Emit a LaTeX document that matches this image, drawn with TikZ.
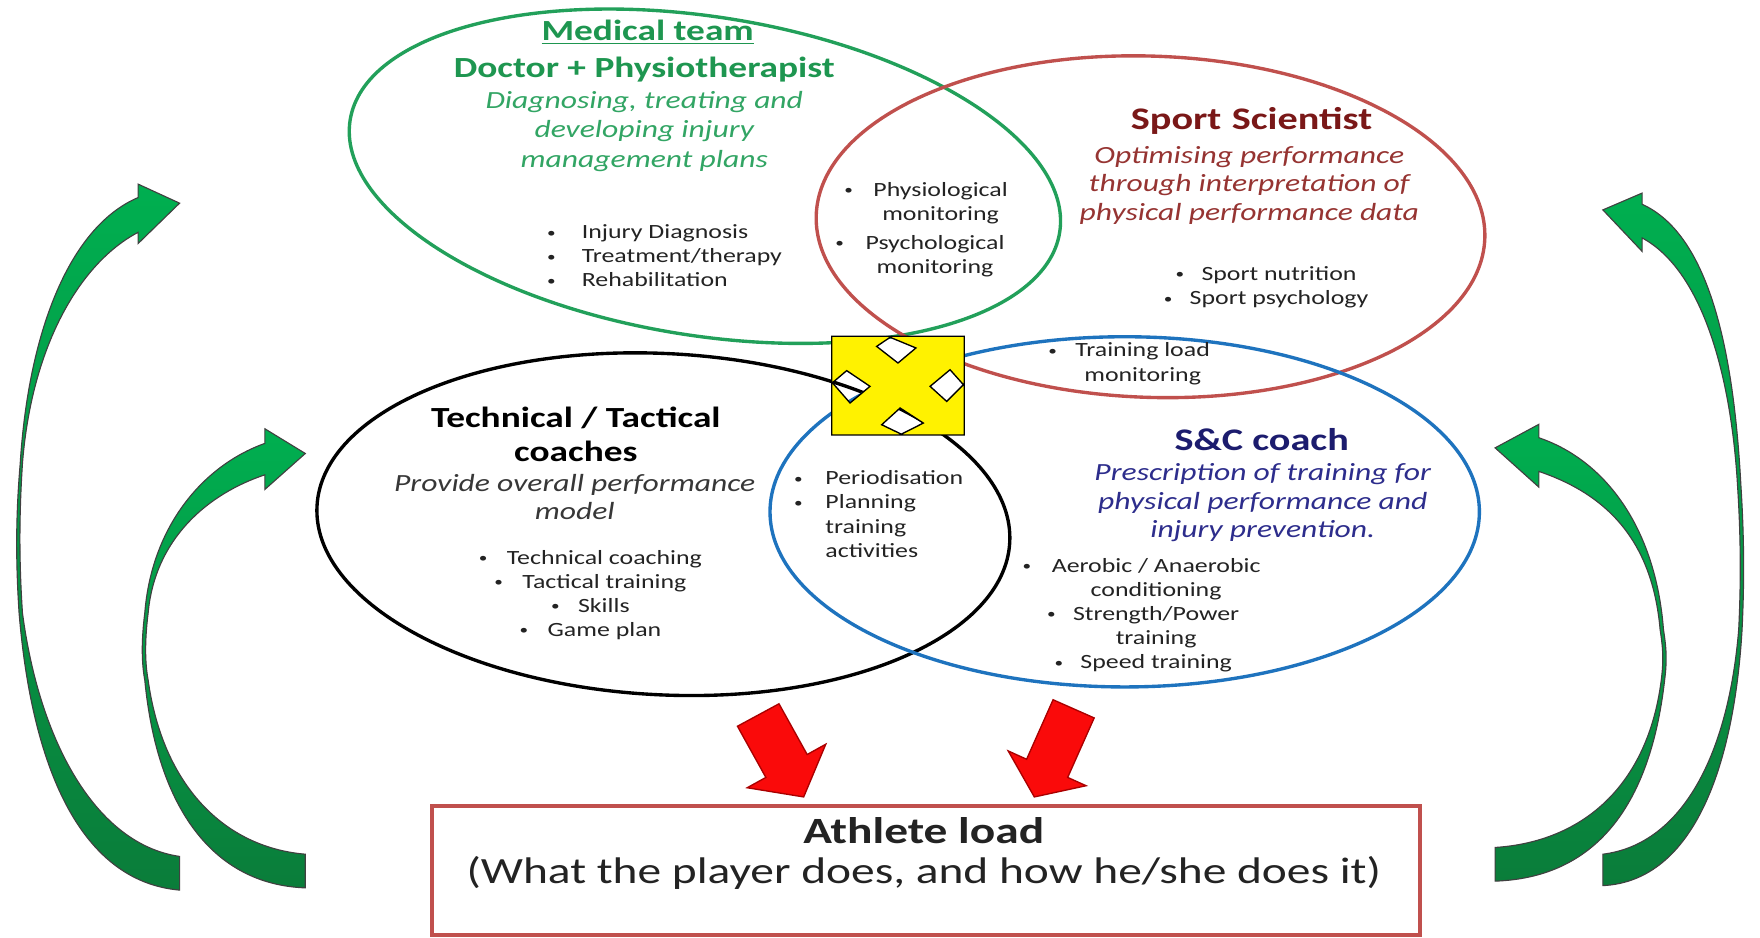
\documentclass[tikz,border=0pt]{standalone}
\usepackage{fontspec}
\setmainfont{Carlito}[FakeStretch=1.28]
\usetikzlibrary{shapes.geometric}
\definecolor{gline}{RGB}{34,160,90}
\definecolor{gtext}{RGB}{30,150,80}
\definecolor{gital}{RGB}{50,165,100}
\definecolor{rline}{RGB}{192,80,77}
\definecolor{rtext}{RGB}{122,24,24}
\definecolor{rital}{RGB}{150,52,50}
\definecolor{bline}{RGB}{30,115,190}
\definecolor{ctext}{RGB}{28,28,110}
\definecolor{cital}{RGB}{45,45,140}
\definecolor{body}{RGB}{35,35,35}
\definecolor{dital}{RGB}{55,55,55}
\definecolor{arrg}{RGB}{0,175,80}
\definecolor{arrgd}{RGB}{10,125,58}
\definecolor{arrr}{RGB}{250,10,10}
\definecolor{arrrd}{RGB}{170,0,0}
\definecolor{boxline}{RGB}{192,80,77}
\newcommand\smbul{{\fontsize{6}{6}\selectfont\raisebox{0.7pt}{•}}}
\newcommand\bu[1]{\makebox[#1][l]{\hspace{1pt}\smbul}}
\newcommand\hb[1]{\llap{\makebox[#1][l]{\hspace{1pt}\smbul}}}
\begin{document}
\begin{tikzpicture}[x=0.5pt,y=-0.5pt,
 ell/.style={ellipse, draw, line width=1.5pt, inner sep=0pt},
 ttl/.style={font=\fontsize{13}{15}\selectfont\bfseries, align=center, inner sep=0pt},
 itl/.style={font=\fontsize{11}{12.75}\selectfont\itshape, align=center, inner sep=0pt},
 bdy/.style={font=\fontsize{9}{10.75}\selectfont, text=body, inner sep=0pt},
 garrow/.style={draw=black!75, line width=0.5pt, top color=arrg, bottom color=arrgd},
 rarrow/.style={draw=arrrd, line width=0.6pt, fill=arrr}]
\fill[white] (0,0) rectangle (1568,835);
\useasboundingbox (0,0) rectangle (1568,835);

% ellipses
\node[ell, draw=gline, minimum width=320pt, minimum height=142pt, rotate=-9] (gE) at (628,157) {};
\node[ell, draw=rline, minimum width=298pt, minimum height=152pt, rotate=-2] (rE) at (1025,202) {};
\node[ell, draw=black, minimum width=309pt, minimum height=152pt, rotate=-3] (kE) at (591,467) {};
\node[ell, draw=bline, minimum width=316pt, minimum height=156pt] (cE) at (1002,456) {};

% yellow quad arrow (notched box)
\path[fill=yellow, draw=black, line width=0.6pt, even odd rule]
 (741,299.6) -- (859,299.6) -- (859,387.5) -- (741,387.5) -- cycle
 (781,308.6) -- (793,300.5) -- (816,310) -- (800,323.4) -- cycle
 (828.6,344.2) -- (846.4,329.4) -- (858.3,342.7) -- (843.4,357.6) -- cycle
 (785.5,378.4) -- (801.9,363.5) -- (822.6,376.9) -- (803,386.8) -- cycle
 (741.6,341) -- (754.3,330.2) -- (775.1,344.2) -- (757.3,359) -- cycle;

% green team
\node[ttl, text=gtext] (gT) at (577,29) {\underline{Medical team}};
\node[ttl, text=gtext] (gS) at (574,62) {Doctor + Physiotherapist};
\node[itl, text=gital, font=\fontsize{11}{13.25}\selectfont\itshape] (gD) at (574,117) {Diagnosing, treating and\\developing injury\\management plans};
\node[bdy, align=left, anchor=west] (gL) at (485,228) {\bu{16.5pt}Injury Diagnosis\\\bu{16.5pt}Treatment/therapy\\\bu{16.5pt}Rehabilitation};

% green/red overlap
\node[bdy, align=center] (grA) at (838,181) {\hb{14pt}Physiological\\monitoring};
\node[bdy, align=center] (grB) at (833,228) {\hb{14.5pt}Psychological\\monitoring};

% red team
\node[ttl, text=rtext, font=\fontsize{14}{16}\selectfont\bfseries] (rT) at (1115,108) {Sport\,\,Scientist};
\node[itl, text=rital] (rD) at (1113,165) {Optimising performance\\through interpretation of\\physical performance data};
\node[bdy, align=center] (rL) at (1127,256) {\bu{12.5pt}Sport nutrition\\\bu{12.5pt}Sport psychology};

% red/blue overlap
\node[bdy, align=center] (rbA) at (1018,324) {\hb{13pt}Training load\\monitoring};

% black team
\node[ttl, text=black] (kT) at (513,387) {Technical / Tactical\\coaches};
\node[itl, text=dital, font=\fontsize{11}{12.5}\selectfont\itshape] (kD) at (512,443) {Provide overall performance\\model};
\node[bdy, align=center] (kL) at (525,530) {\bu{13.5pt}Technical coaching\\\bu{13.5pt}Tactical training\\\bu{13pt}Skills\\\bu{13.5pt}Game plan};

% black/blue overlap
\node[bdy, align=left, anchor=west] (kcL) at (705,458) {\bu{15pt}Periodisation\\\bu{15pt}Planning\\\hspace*{15pt}training\\\hspace*{15pt}activities};

% blue team
\node[ttl, text=ctext, font=\fontsize{14}{16}\selectfont\bfseries] (cT) at (1124,392) {S\&C coach};
\node[itl, text=cital] (cD) at (1125,448) {Prescription of training for\\physical performance and\\injury prevention.};
\node[bdy, align=center] (cL) at (1030,548) {\hb{14pt}Aerobic / Anaerobic\\conditioning\\\hb{12.5pt}Strength/Power\\training\\\hb{12.5pt}Speed training};

% athlete load box
\node[draw=boxline, line width=1.5pt, minimum width=440pt, minimum height=57.5pt, inner sep=0pt] (box) at (825,775.5) {};
\node[inner sep=0pt, text=body, font=\fontsize{16.5}{19}\selectfont\bfseries] (aT) at (823,740) {Athlete load};
\node[inner sep=0pt, text=body, font=\fontsize{16.5}{19}\selectfont] (aS) at (823,778) {(What the player does, and how he/she does it)};

% red arrows
\path[rarrow] (657,647) -- (682.3,692.6) -- (665.7,701.8) -- (716,710) -- (735.7,663) -- (719.1,672.2) -- (694,627) -- cycle;
\path[rarrow] (938.2,623.4) -- (914.6,676.4) -- (898.2,669) -- (921.5,710) -- (967.6,700) -- (951.2,692.6) -- (974.8,639.6) -- cycle;

% green curved arrows
\path[garrow] (123,176) .. controls (60,203) and (25,300) .. (18,413) .. controls (14,460) and (14,500) .. (17,546) .. controls (28,680) and (70,785) .. (160,793) -- (160,763) .. controls (85,752) and (35,660) .. (20,546) .. controls (17,500) and (17,460) .. (20,413) .. controls (28,310) and (70,235) .. (123,207) -- (123,217) -- (160,181) -- (123,164) -- cycle;
\path[garrow] (236,395) .. controls (180,415) and (135,470) .. (129,546) .. controls (126,570) and (126,590) .. (129,606) .. controls (140,720) and (190,788) .. (272,791) -- (272,761) .. controls (200,755) and (145,700) .. (132,606) .. controls (129,590) and (129,570) .. (132,546) .. controls (138,480) and (185,440) .. (236,423) -- (236,436) -- (272,404) -- (236,382) -- cycle;
\path[garrow] (1463,182) .. controls (1525,210) and (1545,320) .. (1551,433) .. controls (1554,480) and (1554,520) .. (1552,561) .. controls (1545,680) and (1510,785) .. (1428,789) -- (1428,761) .. controls (1500,752) and (1540,670) .. (1549,561) .. controls (1551,520) and (1551,480) .. (1548,433) .. controls (1542,330) and (1515,240) .. (1463,212) -- (1463,224) -- (1428,187) -- (1463,172) -- cycle;
\path[garrow] (1371,390) .. controls (1430,410) and (1475,470) .. (1482,561) .. controls (1485,580) and (1485,590) .. (1483,606) .. controls (1470,720) and (1420,782) .. (1332,785) -- (1332,755) .. controls (1410,750) and (1468,700) .. (1480,606) .. controls (1482,590) and (1482,580) .. (1479,561) .. controls (1472,480) and (1430,440) .. (1371,420) -- (1371,434) -- (1332,399) -- (1371,378) -- cycle;
\end{tikzpicture}
\end{document}
